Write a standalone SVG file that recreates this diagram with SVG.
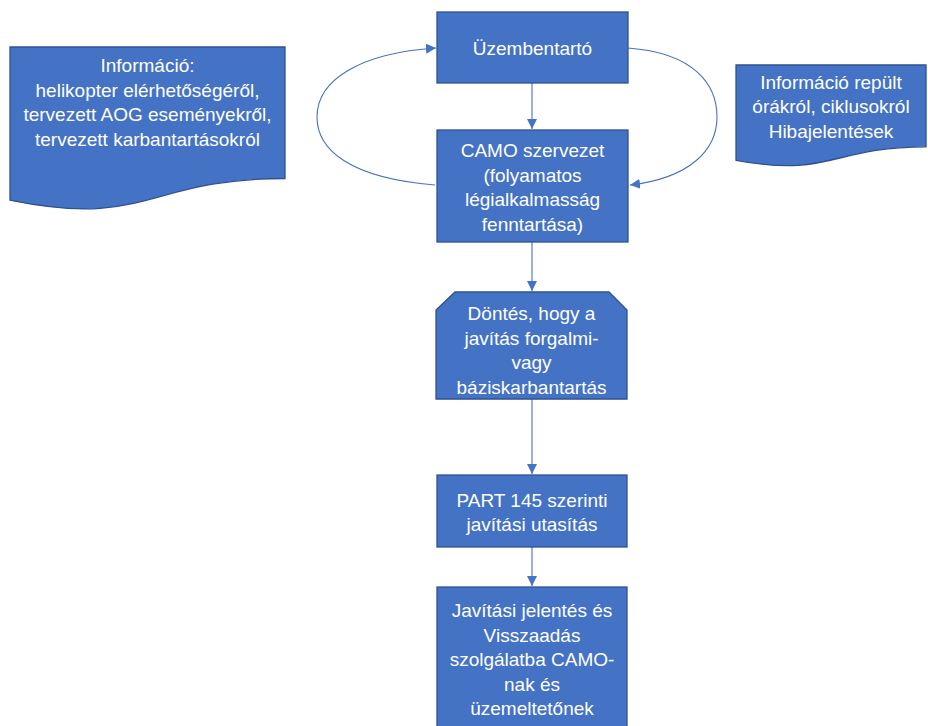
<svg xmlns="http://www.w3.org/2000/svg" width="928" height="726" viewBox="0 0 928 726">
<defs>
<style>
.box{fill:#4472C4;stroke:#2F528F;stroke-width:1.3}
.t{font-family:"Liberation Sans",Arial,sans-serif;font-size:19px;fill:#FFFFFF;text-anchor:middle}
.c{fill:none;stroke:#4472C4;stroke-width:1.1}
</style>
<marker id="ah" markerUnits="userSpaceOnUse" markerWidth="11" markerHeight="10" refX="10" refY="5" orient="auto">
<path d="M0,0 L10,5 L0,10 Z" fill="#4472C4"/>
</marker>
</defs>
<rect width="928" height="726" fill="#FFFFFF"/>
<g id="connectors">
<path class="c" d="M532,83 V129" marker-end="url(#ah)"/>
<path class="c" d="M532,242 V291" marker-end="url(#ah)"/>
<path class="c" d="M532,399 V474" marker-end="url(#ah)"/>
<path class="c" d="M532,547 V586" marker-end="url(#ah)"/>
<path class="c" d="M435,185 C350,178 317,150 317,117 C317,80 360,53 436,48" marker-end="url(#ah)"/>
<path class="c" d="M628,48 C695,53 717,85 717,117 C717,150 690,178 630,185" marker-end="url(#ah)"/>
</g>
<g id="info-left">
<path class="box" d="M10,47 H285 V178.5 C147.5,178.5 147.5,228.6 10,200.2 Z"/>
<text class="t" x="147.5" y="72">Információ:</text>
<text class="t" x="147.5" y="96.5">helikopter elérhetőségéről,</text>
<text class="t" x="147.5" y="121">tervezett AOG eseményekről,</text>
<text class="t" x="147.5" y="145.5">tervezett karbantartásokról</text>
</g>
<g id="info-right">
<path class="box" d="M736,65 H926 V146.8 C831,146.8 831,178 736,160.3 Z"/>
<text class="t" x="831" y="88.5">Információ repült</text>
<text class="t" x="831" y="113">órákról, ciklusokról</text>
<text class="t" x="831" y="137.5">Hibajelentések</text>
</g>
<g id="uzembentarto">
<rect class="box" x="437" y="12" width="191" height="71"/>
<text class="t" x="532.5" y="54.5">Üzembentartó</text>
</g>
<g id="camo">
<rect class="box" x="437" y="130" width="191" height="112"/>
<text class="t" x="532.5" y="157">CAMO szervezet</text>
<text class="t" x="532.5" y="181.5">(folyamatos</text>
<text class="t" x="532.5" y="206">légialkalmasság</text>
<text class="t" x="532.5" y="230.5">fenntartása)</text>
</g>
<g id="dontes">
<path class="box" d="M455,292 H609 L627,310 V399 H436 V310 Z"/>
<text class="t" x="531.5" y="320">Döntés, hogy a</text>
<text class="t" x="531.5" y="344.5">javítás forgalmi-</text>
<text class="t" x="531.5" y="369">vagy</text>
<text class="t" x="531.5" y="393.5">báziskarbantartás</text>
</g>
<g id="part145">
<rect class="box" x="437" y="475" width="190" height="72"/>
<text class="t" x="532" y="507">PART 145 szerinti</text>
<text class="t" x="532" y="531">javítási utasítás</text>
</g>
<g id="jelentes">
<rect class="box" x="437" y="587" width="190" height="160"/>
<text class="t" x="532" y="617">Javítási jelentés és</text>
<text class="t" x="532" y="641.5">Visszaadás</text>
<text class="t" x="532" y="666">szolgálatba CAMO-</text>
<text class="t" x="532" y="690.5">nak és</text>
<text class="t" x="532" y="715">üzemeltetőnek</text>
</g>
</svg>
